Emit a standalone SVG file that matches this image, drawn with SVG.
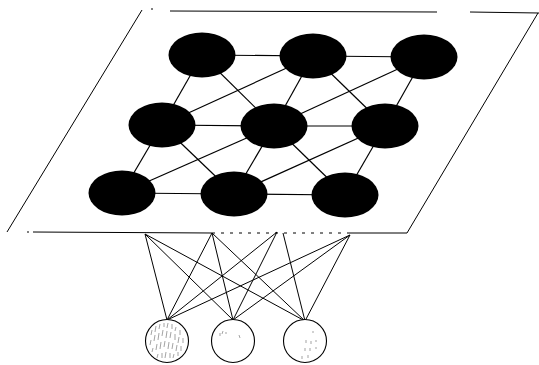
<svg xmlns="http://www.w3.org/2000/svg" width="539" height="365" viewBox="0 0 539 365">
<style>
.plane{stroke:#000;stroke-width:1;fill:none}
.edge{stroke:#000;stroke-width:1.2;fill:none}
.link{stroke:#000;stroke-width:1;fill:none}
.node{fill:#000}
.inp{fill:#fff;stroke:#000;stroke-width:1.1}
.tex{stroke:#666;stroke-width:0.6;fill:none}
</style>
<rect width="539" height="365" fill="#fff"/>
<g id="plane">
<line class="plane" x1="142" y1="10" x2="7" y2="232"/>
<line class="plane" x1="538" y1="13" x2="407" y2="233"/>
<line class="plane" x1="151" y1="9" x2="153" y2="9"/>
<line class="plane" x1="170" y1="11" x2="437" y2="12"/>
<line class="plane" x1="470" y1="12" x2="539" y2="13"/>
<line class="plane" x1="27" y1="232" x2="29" y2="232"/>
<line class="plane" x1="33" y1="232" x2="212" y2="233"/>
<line class="plane" x1="212" y1="233" x2="350" y2="233" stroke-dasharray="3 6"/>
<line class="plane" x1="350" y1="233" x2="407" y2="233"/>
</g>
<g id="connectors">
<g id="grid-edges">
<line class="edge" x1="202" y1="55" x2="313" y2="56"/>
<line class="edge" x1="313" y1="56" x2="424" y2="57"/>
<line class="edge" x1="162" y1="125" x2="274" y2="126"/>
<line class="edge" x1="274" y1="126" x2="385" y2="126"/>
<line class="edge" x1="122" y1="193" x2="234" y2="194"/>
<line class="edge" x1="234" y1="194" x2="345" y2="195"/>
<line class="edge" x1="202" y1="55" x2="162" y2="125"/>
<line class="edge" x1="313" y1="56" x2="274" y2="126"/>
<line class="edge" x1="424" y1="57" x2="385" y2="126"/>
<line class="edge" x1="162" y1="125" x2="122" y2="193"/>
<line class="edge" x1="274" y1="126" x2="234" y2="194"/>
<line class="edge" x1="385" y1="126" x2="345" y2="195"/>
<line class="edge" x1="202" y1="55" x2="274" y2="126"/>
<line class="edge" x1="313" y1="56" x2="385" y2="126"/>
<line class="edge" x1="162" y1="125" x2="234" y2="194"/>
<line class="edge" x1="274" y1="126" x2="345" y2="195"/>
<line class="edge" x1="162" y1="125" x2="313" y2="56"/>
<line class="edge" x1="274" y1="126" x2="424" y2="57"/>
<line class="edge" x1="122" y1="193" x2="274" y2="126"/>
<line class="edge" x1="234" y1="194" x2="385" y2="126"/>
</g>
<g id="input-links">
<line class="link" x1="145" y1="234" x2="167" y2="320"/>
<line class="link" x1="145" y1="234" x2="233" y2="320"/>
<line class="link" x1="145" y1="234" x2="305" y2="321"/>
<line class="link" x1="212" y1="233" x2="167" y2="320"/>
<line class="link" x1="212" y1="233" x2="233" y2="320"/>
<line class="link" x1="212" y1="233" x2="305" y2="321"/>
<line class="link" x1="277" y1="232" x2="167" y2="320"/>
<line class="link" x1="277" y1="232" x2="233" y2="320"/>
<line class="link" x1="283" y1="233" x2="305" y2="321"/>
<line class="link" x1="350" y1="235" x2="167" y2="320"/>
<line class="link" x1="350" y1="235" x2="233" y2="320"/>
<line class="link" x1="350" y1="235" x2="305" y2="321"/>
</g>
</g>
<g id="n1"><ellipse class="node" cx="202" cy="55" rx="33.5" ry="22.5"/></g>
<g id="n2"><ellipse class="node" cx="313" cy="56" rx="33.5" ry="22.5"/></g>
<g id="n3"><ellipse class="node" cx="424" cy="57" rx="33.5" ry="22.5"/></g>
<g id="n4"><ellipse class="node" cx="162" cy="125" rx="33.5" ry="22.5"/></g>
<g id="n5"><ellipse class="node" cx="274" cy="126" rx="33.5" ry="22.5"/></g>
<g id="n6"><ellipse class="node" cx="385" cy="126" rx="33.5" ry="22.5"/></g>
<g id="n7"><ellipse class="node" cx="122" cy="193" rx="33.5" ry="22.5"/></g>
<g id="n8"><ellipse class="node" cx="234" cy="194" rx="33.5" ry="22.5"/></g>
<g id="n9"><ellipse class="node" cx="345" cy="195" rx="33.5" ry="22.5"/></g>
<g id="in1">
<circle class="inp" cx="167" cy="341" r="21.5"/>
<path class="tex" d="M152 330l-1 5M156 326l-1 6M160 324l-1 5M164 323l0 4M168 323l-1 5M172 324l0 5M176 327l-1 4M180 330l0 5M151 340l-1 5M155 335l-1 6M159 333l-1 7M163 330l-1 6M167 331l-1 7M171 332l-1 6M175 334l0 6M179 337l-1 6M183 338l0 5M153 348l-1 4M157 344l-1 6M161 342l-1 7M165 341l-1 6M169 342l-1 7M173 343l-1 6M177 345l-1 6M181 346l0 5M158 354l-1 4M162 353l0 5M166 352l-1 6M170 353l0 5M174 354l-1 4M178 352l0 4"/>
</g>
<g id="in2">
<circle class="inp" cx="233" cy="341" r="21.5"/>
<path class="tex" d="M220 333l0 3M223 331l-1 3M226 332l0 2M239 335l1 3"/>
</g>
<g id="in3">
<circle class="inp" cx="305" cy="341" r="21.5"/>
<path class="tex" d="M313 331l0 2M306 340l0 3M311 341l0 3M316 340l0 2M305 348l0 3M310 348l0 3M316 347l0 2M302 356l0 3M308 355l0 3"/>
</g>
</svg>
